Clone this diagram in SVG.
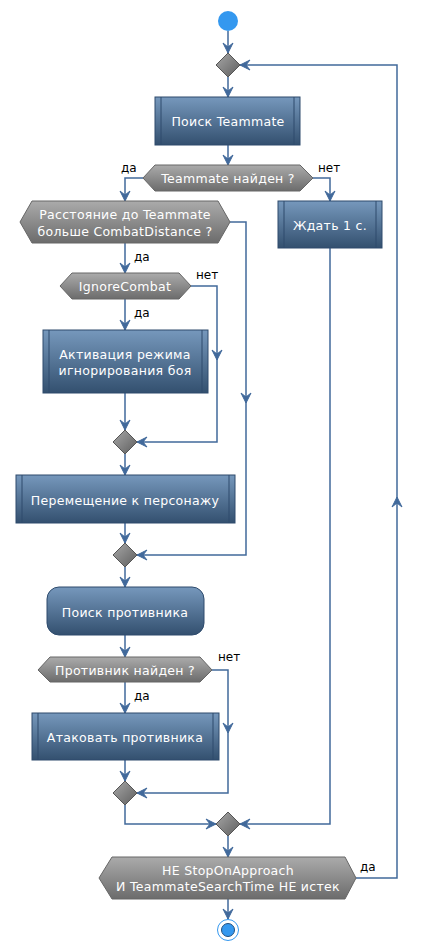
<svg xmlns="http://www.w3.org/2000/svg" xmlns:xlink="http://www.w3.org/1999/xlink" width="422" height="952" viewBox="0 0 422 952">
<style>
.box{fill:url(#gBlue);stroke:#2E4B6D;stroke-width:1}
.side{stroke:#2E4B6D;stroke-width:1;fill:none}
.hex{fill:url(#gGray);stroke:#666;stroke-width:1}
.dia{fill:url(#gDia);stroke:#555;stroke-width:1}
.t{font-family:"DejaVu Sans",sans-serif;font-size:12.5px;letter-spacing:0.3px;fill:#fff;text-anchor:middle;dominant-baseline:central}
.l{font-family:"DejaVu Sans",sans-serif;font-size:12px;fill:#000;dominant-baseline:central}
.c{fill:none;stroke:#41699B;stroke-width:1.5}
.a{fill:#41699B;stroke:#41699B;stroke-width:1}
</style>
<defs>
<linearGradient id="gBlue" x1="0" y1="0" x2="0" y2="1"><stop offset="0" stop-color="#7698BC"/><stop offset="1" stop-color="#33506F"/></linearGradient>
<linearGradient id="gGray" x1="0" y1="0" x2="0" y2="1"><stop offset="0" stop-color="#ABABAB"/><stop offset="1" stop-color="#6C6C6C"/></linearGradient>
<linearGradient id="gDia" x1="0" y1="0" x2="1" y2="1"><stop offset="0" stop-color="#A8A8A8"/><stop offset="1" stop-color="#5E5E5E"/></linearGradient>
<path id="ar" d="M0,0 L-5,-10 L0,-6 L5,-10 Z"/>
</defs>

<g id="connectors">
<path class="c" d="M228,31 V53"/>
<path class="c" d="M228,77 V97"/>
<path class="c" d="M228,145 V165"/>
<path class="c" d="M143,178 H125 V201"/>
<path class="c" d="M313,178 H330 V201"/>
<path class="c" d="M125,243 V273"/>
<path class="c" d="M230,222 H246 V555 H137"/>
<path class="c" d="M125,299 V330"/>
<path class="c" d="M191,286 H217 V442 H137"/>
<path class="c" d="M125,393 V430"/>
<path class="c" d="M125,454 V475"/>
<path class="c" d="M125,523 V543"/>
<path class="c" d="M125,567 V587"/>
<path class="c" d="M125,635 V657"/>
<path class="c" d="M125,682 V713"/>
<path class="c" d="M212,670 H228 V793 H137"/>
<path class="c" d="M125,760 V781"/>
<path class="c" d="M125,805 V824 H216"/>
<path class="c" d="M330,248 V824 H240"/>
<path class="c" d="M228,836 V857"/>
<path class="c" d="M356,878 H397 V65 H240"/>
<path class="c" d="M228,899 V919"/>
<g class="a">
<use xlink:href="#ar" transform="translate(228,53)"/>
<use xlink:href="#ar" transform="translate(228,97)"/>
<use xlink:href="#ar" transform="translate(228,165)"/>
<use xlink:href="#ar" transform="translate(125,201)"/>
<use xlink:href="#ar" transform="translate(330,201)"/>
<use xlink:href="#ar" transform="translate(125,273)"/>
<use xlink:href="#ar" transform="translate(246,403)"/>
<use xlink:href="#ar" transform="translate(137,555) rotate(90)"/>
<use xlink:href="#ar" transform="translate(125,330)"/>
<use xlink:href="#ar" transform="translate(217,360)"/>
<use xlink:href="#ar" transform="translate(137,442) rotate(90)"/>
<use xlink:href="#ar" transform="translate(125,430)"/>
<use xlink:href="#ar" transform="translate(125,475)"/>
<use xlink:href="#ar" transform="translate(125,543)"/>
<use xlink:href="#ar" transform="translate(125,587)"/>
<use xlink:href="#ar" transform="translate(125,657)"/>
<use xlink:href="#ar" transform="translate(125,713)"/>
<use xlink:href="#ar" transform="translate(228,733)"/>
<use xlink:href="#ar" transform="translate(137,793) rotate(90)"/>
<use xlink:href="#ar" transform="translate(125,781)"/>
<use xlink:href="#ar" transform="translate(216,824) rotate(-90)"/>
<use xlink:href="#ar" transform="translate(240,824) rotate(90)"/>
<use xlink:href="#ar" transform="translate(228,857)"/>
<use xlink:href="#ar" transform="translate(397,497) rotate(180)"/>
<use xlink:href="#ar" transform="translate(240,65) rotate(90)"/>
<use xlink:href="#ar" transform="translate(228,919)"/>
</g>
<text class="l" x="121" y="168">да</text>
<text class="l" x="318" y="168">нет</text>
<text class="l" x="134" y="257">да</text>
<text class="l" x="196" y="275">нет</text>
<text class="l" x="134" y="313">да</text>
<text class="l" x="218" y="657">нет</text>
<text class="l" x="134" y="696">да</text>
<text class="l" x="360" y="867">да</text>
</g>

<g id="start"><circle cx="228" cy="21" r="10" fill="#3498EF"/></g>

<g id="merge0"><path class="dia" d="M228,53 L240,65 L228,77 L216,65 Z"/></g>

<g id="searchTeammate">
<rect class="box" x="155" y="97" width="145" height="48"/>
<path class="side" d="M161,97 V145 M294,97 V145"/>
<text class="t" x="228" y="121">Поиск Teammate</text>
</g>

<g id="teammateFound">
<path class="hex" d="M143,178 L155,165 H300 L313,178 L300,191 H155 Z"/>
<text class="t" x="228" y="178">Teammate найден ?</text>
</g>

<g id="wait">
<rect class="box" x="278" y="201" width="104" height="47"/>
<path class="side" d="M284,201 V248 M376,201 V248"/>
<text class="t" x="330" y="225">Ждать 1 с.</text>
</g>

<g id="distance">
<path class="hex" d="M20,222 L32,201 H218 L230,222 L218,243 H32 Z"/>
<text class="t" x="125" y="214">Расстояние до Teammate</text>
<text class="t" x="125" y="231">больше CombatDistance ?</text>
</g>

<g id="ignoreCombat">
<path class="hex" d="M60,286 L72,273 H179 L191,286 L179,299 H72 Z"/>
<text class="t" x="125" y="286">IgnoreCombat</text>
</g>

<g id="activate">
<rect class="box" x="43" y="330" width="165" height="63"/>
<path class="side" d="M49,330 V393 M202,330 V393"/>
<text class="t" x="125" y="354">Активация режима</text>
<text class="t" x="125" y="370">игнорирования боя</text>
</g>

<g id="merge1"><path class="dia" d="M125,430 L137,442 L125,454 L113,442 Z"/></g>

<g id="move">
<rect class="box" x="16" y="475" width="219" height="48"/>
<path class="side" d="M22,475 V523 M229,475 V523"/>
<text class="t" x="125" y="500">Перемещение к персонажу</text>
</g>

<g id="merge2"><path class="dia" d="M125,543 L137,555 L125,567 L113,555 Z"/></g>

<g id="searchEnemy">
<rect class="box" x="47" y="587" width="157" height="48" rx="12" ry="12"/>
<text class="t" x="125" y="612">Поиск противника</text>
</g>

<g id="enemyFound">
<path class="hex" d="M38,670 L50,657 H200 L212,670 L200,682 H50 Z"/>
<text class="t" x="125" y="670">Противник найден ?</text>
</g>

<g id="attack">
<rect class="box" x="32" y="713" width="187" height="47"/>
<path class="side" d="M38,713 V760 M213,713 V760"/>
<text class="t" x="125" y="737">Атаковать противника</text>
</g>

<g id="merge3"><path class="dia" d="M125,781 L137,793 L125,805 L113,793 Z"/></g>

<g id="merge4"><path class="dia" d="M228,812 L240,824 L228,836 L216,824 Z"/></g>

<g id="loopCond">
<path class="hex" d="M99,878 L112,857 H345 L356,878 L345,899 H112 Z"/>
<text class="t" x="228" y="870">НЕ StopOnApproach</text>
<text class="t" x="228" y="886">И TeammateSearchTime НЕ истек</text>
</g>

<g id="end">
<circle cx="228" cy="930" r="10.5" fill="#fff" stroke="#3498EF" stroke-width="1"/>
<circle cx="228" cy="930" r="6.5" fill="#3498EF" stroke="#1F4F80" stroke-width="1"/>
</g>
</svg>
